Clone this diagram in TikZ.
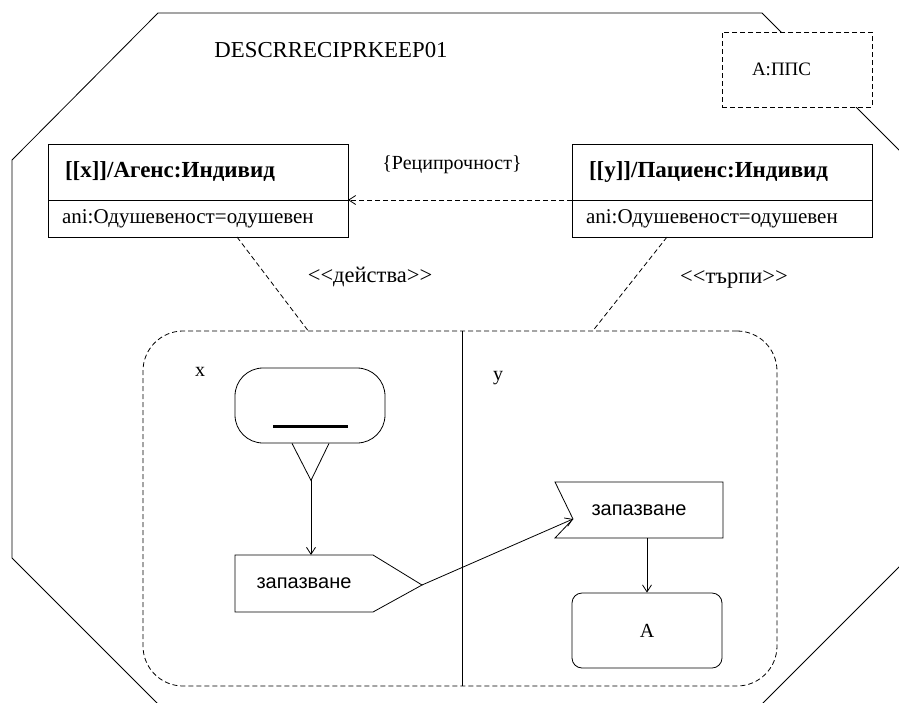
\documentclass[tikz,border=0pt]{standalone}
\usepackage{fontspec}
\setmainfont{Liberation Serif}
\setsansfont{Liberation Sans}
\usetikzlibrary{arrows.meta,positioning,calc}

\begin{document}
\begin{tikzpicture}
	[x=1pt,y=-1pt,line width=0.8pt,
	every node/.style={font=\fontsize{20}{24}\selectfont},
	dsh/.style={dash pattern=on 5pt off 3pt},
	head/.style={draw,minimum height=56pt,text width=266pt,inner xsep=17pt,inner ysep=0pt,align=left,outer sep=0pt,font=\fontsize{23}{26}\selectfont\bfseries},
	attr/.style={draw,minimum height=37pt,text width=272pt,inner xsep=14pt,inner ysep=0pt,align=left,outer sep=0pt,font=\fontsize{21}{24}\selectfont},
	stereo/.style={font=\fontsize{22.5}{24}\selectfont},
	sig/.style={minimum height=57pt,inner sep=0pt,outer sep=0pt,font=\sffamily\fontsize{20}{22}\selectfont},
	edge/.style={->,>={Straight Barb[length=7pt,width=9pt]}}]
	\useasboundingbox (0,0) rectangle (899,702);
	\clip (0,0) rectangle (899,702);
	
	% frame
	\draw (158,13) -- (762,13) -- (912,163) -- (912,554) -- (760,706) -- (160,706) -- (12,558) -- (12,160) -- cycle;
	\node (ttl) at (331,50) {\fontsize{22.8}{24}\selectfont DESCRRECIPRKEEP01};
	\node[draw,dsh,fill=white,text width=90pt,inner xsep=30pt,align=left,minimum height=75pt] (pps) at (797,69.5) {\fontsize{19}{22}\selectfont A:ППС};
	
	% classes
	\node[head] (agh) at (198,172) {[[x]]/Агенс:Индивид};
	\node[attr,below=0pt of agh] (aga) {ani:Одушевеност=одушевен};
	\node[head] (pth) at (722,172) {[[y]]/Пациенс:Индивид};
	\node[attr,below=0pt of pth] (pta) {ani:Одушевеност=одушевен};
	
	\draw[dsh,edge] (pth.south west) -- (agh.south east);
	\node (rcp) at (452,165) {\{Реципрочност\}};
	
	% activity
	\node[draw,dsh,rounded corners=40pt,minimum width=634pt,minimum height=355pt] (swim) at (460,508.5) {};
	\draw ([xshift=2pt]swim.north) -- ([xshift=2pt]swim.south);
	\node (lx) at (200,372) {x};
	\node (ly) at (498,378) {y};
	
	\draw[dsh] ([xshift=39pt]aga.south) -- ([xshift=-152pt]swim.north);
	\draw[dsh] ([xshift=-55pt]pta.south) -- ([xshift=133pt]swim.north);
	\node[stereo] (act) at (370,277) {<{}<действа>{}>};
	\node[stereo] (pat) at (734,279) {<{}<търпи>{}>};
	
	\node[draw,rounded corners=28pt,minimum width=150pt,minimum height=75pt,inner sep=0pt] (strt) at (310,405.5) {};
	\draw[line width=3pt] ($(strt.south)+(-37,-17)$) -- ($(strt.south)+(38,-17)$);
	\coordinate (tip) at ($(strt.south)+(1,37)$);
	\draw ($(strt.south)+(-18,0)$) -- (tip) -- ($(strt.south)+(19,0)$);
	
	\node[sig,minimum width=138pt] (snd) at (304,583.5) {запазване};
	\coordinate (sndtip) at (422,585);
	\draw (snd.north west) -- (snd.north east) -- (sndtip) -- (snd.south east) -- (snd.south west) -- cycle;
	\draw[edge] (tip) -- (tip |- snd.north);
	
	\node[sig,minimum width=168pt,minimum height=56pt] (rcv) at (639,510) {запазване};
	\coordinate (notch) at (573,519);
	\draw (rcv.north west) -- (rcv.north east) -- (rcv.south east) -- (rcv.south west) -- (notch) -- cycle;
	\draw[edge] (sndtip) -- (notch);
	
	\node[draw,rounded corners=10pt,minimum width=150pt,minimum height=75pt] (fin) at (647,630.5) {A};
	\draw[edge] (rcv.south -| fin.north) -- (fin.north);
\end{tikzpicture}
\end{document}
